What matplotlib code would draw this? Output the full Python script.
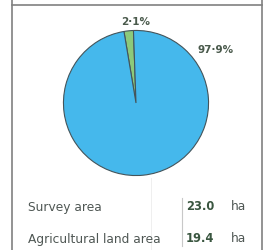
import matplotlib
matplotlib.use("Agg")
import matplotlib.pyplot as plt
from matplotlib.lines import Line2D

# Data
shares = [2.1, 97.9]
share_labels = ["2·1%", "97·9%"]
colors = ["#8cc97a", "#45b8ec"]
row_names = ["Survey area", "Agricultural land area"]
row_values = [23.0, 19.4]
row_units = ["ha", "ha"]

W, H = 271, 250
fig = plt.figure(figsize=(W / 100, H / 100), dpi=100)
fig.patch.set_facecolor("white")


def fx(px):
    return px / W


def fy(py):
    return 1 - py / H


# frame lines
line_kw = dict(color="#808080", linewidth=1.2, transform=fig.transFigure)
fig.add_artist(Line2D([fx(12), fx(12)], [fy(0), fy(250)], **line_kw))
fig.add_artist(Line2D([fx(262), fx(262)], [fy(0), fy(250)], **line_kw))
fig.add_artist(Line2D([fx(12), fx(262)], [fy(5), fy(5)], **line_kw))
# faint scan lines
fig.add_artist(Line2D([fx(151), fx(151)], [fy(178), fy(250)], color="#ececec",
                      linewidth=0.6, transform=fig.transFigure))
fig.add_artist(Line2D([fx(182), fx(182)], [fy(198), fy(246)], color="#c8c8c8",
                      linewidth=0.8, transform=fig.transFigure))

# pie
cx, cy, r = 136, 103, 74
ax = fig.add_axes([fx(cx - r), fy(cy + r), 2 * r / W, 2 * r / H])
ax.pie(shares, colors=colors, startangle=92, counterclock=True,
       wedgeprops=dict(edgecolor="#44545a", linewidth=0.8))
ax.set_xlim(-1.02, 1.02)
ax.set_ylim(-1.02, 1.02)
ax.set_aspect("equal")
ax.axis("off")

# handwritten-ish percentage labels
fig.text(fx(136), fy(22), share_labels[0], ha="center", va="center",
         fontsize=7.5, color="#4a5a4c", fontweight="bold")
fig.text(fx(216), fy(50), share_labels[1], ha="center", va="center",
         fontsize=7.5, color="#4a5a4c", fontweight="bold")

# table rows
row_y = [207, 239]
for name, val, unit, y in zip(row_names, row_values, row_units, row_y):
    fig.text(fx(28), fy(y), name, ha="left", va="center", fontsize=8.8,
             color="#4f5754", family="DejaVu Sans")
    fig.text(fx(200), fy(y), f"{val:.1f}", ha="center", va="center", fontsize=8.3,
             color="#3a5640", fontweight="bold", family="DejaVu Sans")
    fig.text(fx(238), fy(y), unit, ha="center", va="center", fontsize=8.8,
             color="#4f5754", family="DejaVu Sans")

fig.savefig("out.png", dpi=100)
